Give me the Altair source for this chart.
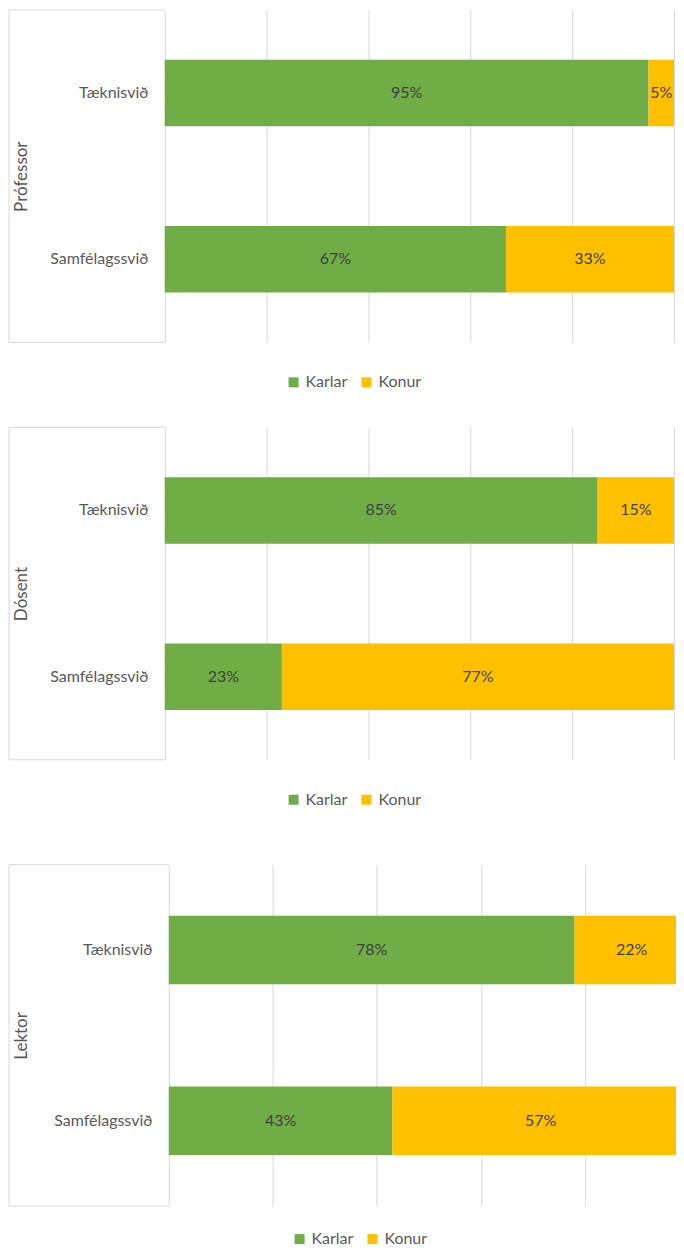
import altair as alt
import pandas as pd

levels = ["Prófessor", "Dósent", "Lektor"]
fields = ["Tæknisvið", "Samfélagssvið"]
genders = ["Karlar", "Konur"]
colors = ["#70AD47", "#FFC000"]
karlar = [[0.95, 0.67], [0.85, 0.23], [0.78, 0.43]]
konur = [[0.05, 0.33], [0.15, 0.77], [0.22, 0.57]]

FONT = "Lato"
GRID = "#d9d9d9"
LABEL = "#595959"


def panel(i, width, height, x0, full, xvals, legx, legy, legpad, labpad):
    rows = []
    for j, f in enumerate(fields):
        rows.append({"svid": f, "kyn": genders[0], "ord": 0, "value": karlar[i][j]})
        rows.append({"svid": f, "kyn": genders[1], "ord": 1, "value": konur[i][j]})
    df = pd.DataFrame(rows)

    base = alt.Chart(df).transform_stack(
        stack="value", groupby=["svid"], as_=["v0", "v1"],
        sort=[alt.SortField("ord", order="ascending")]
    ).transform_calculate(mid="(datum.v0 + datum.v1) / 2")

    # visible part of the 0-100% axis (the last panel is cut at the right edge)
    dmax = min(1.0, (width - x0) / full)
    xscale = alt.Scale(domain=[0, dmax], nice=False, zero=True, clamp=True,
                       range=[x0, width])
    yenc = alt.Y(
        "svid:N", sort=fields,
        scale=alt.Scale(paddingInner=0.6, paddingOuter=0.3),
        axis=alt.Axis(
            title=levels[i], titleAngle=270, titleFont=FONT, titleFontSize=17,
            titleFontWeight="normal", titleColor=LABEL, titleX=-143,
            titleY=height / 2, titleAlign="center", titleBaseline="middle",
            labelFont=FONT, labelFontSize=16, labelColor=LABEL, labelPadding=labpad,
            ticks=False, domain=False, grid=False,
        ),
    )

    bars = base.mark_bar().encode(
        x=alt.X("v0:Q", scale=xscale, axis=alt.Axis(
            values=xvals, grid=True, gridColor=GRID, gridWidth=1, labels=False,
            ticks=False, domain=False, title=None)),
        x2="v1:Q",
        y=yenc,
        color=alt.Color(
            "kyn:N", scale=alt.Scale(domain=genders, range=colors),
            legend=alt.Legend(
                title=None, orient="none", legendX=legx - legpad, legendY=legy - legpad,
                padding=legpad, direction="horizontal", symbolType="square",
                symbolSize=100, symbolStrokeWidth=0, labelFont=FONT,
                labelFontSize=16, labelColor=LABEL, labelOffset=4, columnPadding=11,
            ),
        ),
    )

    text = base.mark_text(font=FONT, fontSize=16, color="#404040").encode(
        x=alt.X("mid:Q", scale=xscale),
        y=alt.Y("svid:N", sort=fields),
        text=alt.Text("value:Q", format=".0%"),
    )

    one = alt.Chart(pd.DataFrame({"k": [0]}))
    top = one.mark_rule(color=GRID, strokeWidth=1).encode(
        x=alt.value(-156), x2=alt.value(x0), y=alt.value(0))
    bottom = one.mark_rule(color=GRID, strokeWidth=1).encode(
        x=alt.value(-156), x2=alt.value(x0), y=alt.value(height))
    side = one.mark_rule(color=GRID, strokeWidth=1).encode(
        x=alt.value(-156), y=alt.value(0), y2=alt.value(height))

    return alt.layer(bars, text, top, bottom, side).properties(width=width, height=height)


p1 = panel(0, 510, 333, 0, 510, [0, 0.2, 0.4, 0.6, 0.8, 1.0], 121, 365, 0, 17)
p2 = panel(1, 510, 333, 0, 510, [0, 0.2, 0.4, 0.6, 0.8, 1.0], 121, 365, 20, 17)
p3 = panel(2, 512, 342, 4, 521, [0, 0.2, 0.4, 0.6, 0.8], 127, 367, 0, 13)

chart = alt.concat(p1, p2, p3, columns=1, spacing=36).resolve_scale(
    x="independent", y="independent", color="independent"
).resolve_legend(color="independent").configure_view(stroke=None).properties(
    padding={"left": 0, "top": 0, "right": 0, "bottom": 0}
)

chart.save("out.html", embed_options={"renderer": "svg", "actions": False})
